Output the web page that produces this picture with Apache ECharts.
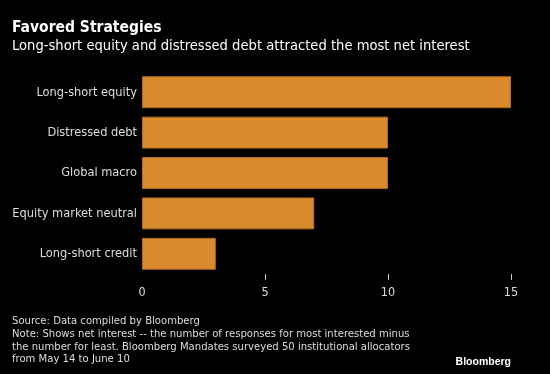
<!DOCTYPE html>
<html><head><meta charset="utf-8">
<script src="https://cdn.jsdelivr.net/npm/echarts@6/dist/echarts.min.js"></script>
<style>html,body{margin:0;padding:0;background:#000;}#c{width:550px;height:374px;}</style>
</head><body><div id="c"></div>
<script>
const categories = ["Long-short equity", "Distressed debt", "Global macro", "Equity market neutral", "Long-short credit"];
const values = [15, 10, 10, 7, 3];
const tickValues = [0, 5, 10, 15];
const tickMarks = [5, 10, 15];
const FONT = "'DejaVu Sans Condensed', 'DejaVu Sans', sans-serif";

const chart = echarts.init(document.getElementById('c'), null, {renderer: 'canvas'});
chart.setOption({
  backgroundColor: '#000000',
  animation: false,
  textStyle: {fontFamily: FONT},
  title: [
    {text: 'Favored Strategies', left: 7, top: 15,
     textStyle: {color: '#ffffff', fontSize: 15.5, fontWeight: 'bold', fontFamily: FONT}},
    {text: 'Long-short equity and distressed debt attracted the most net interest', left: 7, top: 34,
     textStyle: {color: '#ffffff', fontSize: 14.6, fontWeight: 'normal', fontFamily: FONT}},
    {text: 'Source: Data compiled by Bloomberg\nNote: Shows net interest -- the number of responses for most interested minus\nthe number for least. Bloomberg Mandates surveyed 50 institutional allocators\nfrom May 14 to June 10',
     left: 7, top: 310,
     textStyle: {color: '#dddddd', fontSize: 11.2, lineHeight: 12.7, fontWeight: 'normal', fontFamily: FONT}},
    {text: 'Bloomberg', right: 34, top: 352,
     textStyle: {color: '#ffffff', fontSize: 10.5, fontWeight: 'bold', fontFamily: "'Liberation Sans', Arial, sans-serif"}}
  ],
  grid: {left: 142, right: 39, top: 72, bottom: 100, containLabel: false},
  xAxis: {
    type: 'value', min: 0, max: 15, interval: 5,
    axisLine: {show: false},
    axisTick: {show: true, length: 6, customValues: tickMarks, lineStyle: {color: '#cccccc', width: 1}},
    axisLabel: {color: '#dddddd', fontSize: 12.5, margin: 12, customValues: tickValues, fontFamily: FONT},
    splitLine: {show: false}
  },
  yAxis: {
    type: 'category', data: categories, inverse: true,
    axisLine: {show: false}, axisTick: {show: false},
    axisLabel: {color: '#dddddd', fontSize: 12.7, margin: 5, fontFamily: FONT}
  },
  series: [{
    type: 'bar', data: values, barCategoryGap: '21%',
    itemStyle: {color: '#d88a2c', borderColor: '#b06e1e', borderWidth: 1}
  }]
});
</script></body></html>
